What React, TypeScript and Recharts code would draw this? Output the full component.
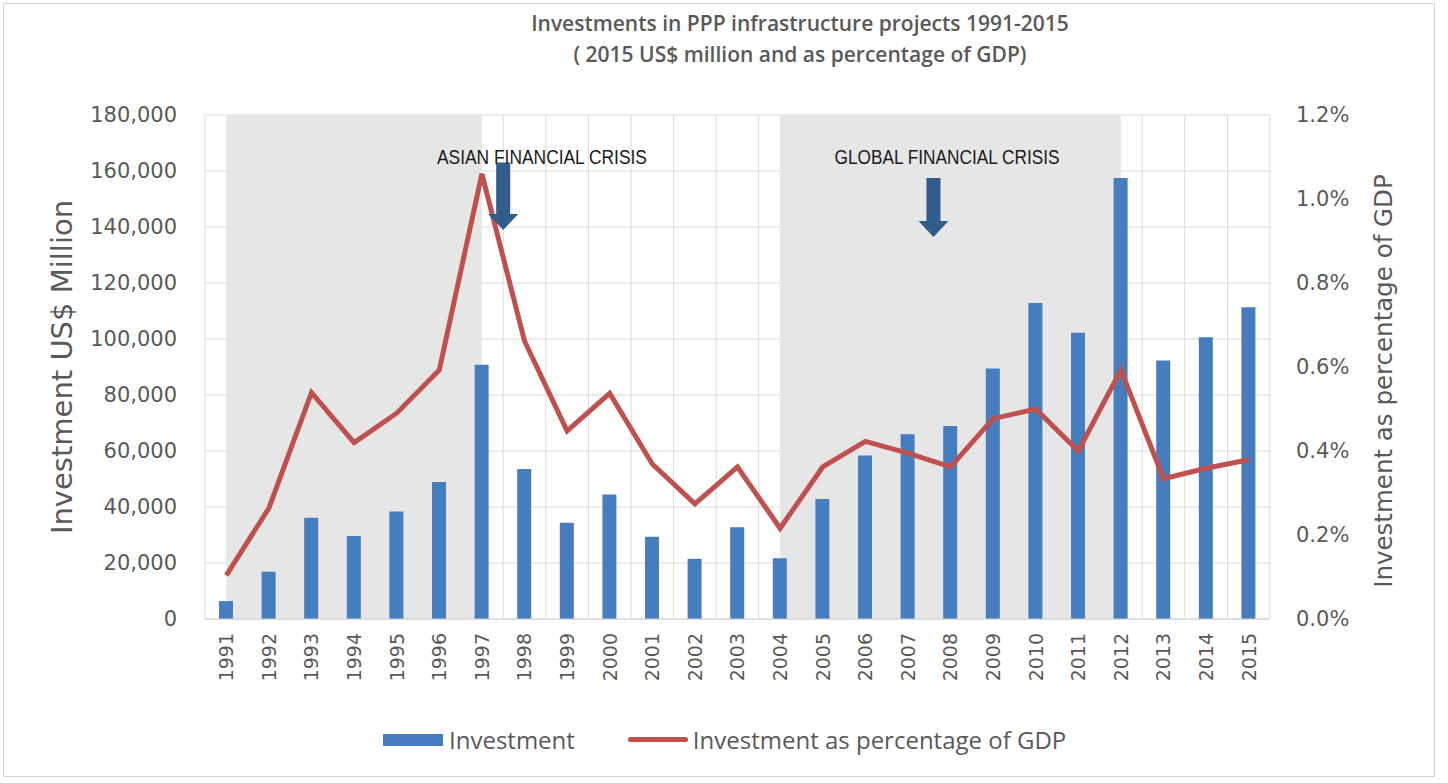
import React from 'react';
import {
  ComposedChart, Bar, Line, XAxis, YAxis, CartesianGrid, Legend,
  ReferenceArea, ReferenceLine, ReferenceDot,
} from 'recharts';

const years = [
  '1991', '1992', '1993', '1994', '1995', '1996', '1997', '1998', '1999', '2000',
  '2001', '2002', '2003', '2004', '2005', '2006', '2007', '2008', '2009', '2010',
  '2011', '2012', '2013', '2014', '2015',
];

// 2015 US$ million
const investment = [
  6400, 16900, 36200, 29600, 38400, 48900, 90800, 53600, 34400, 44500,
  29400, 21500, 32800, 21700, 42900, 58400, 66000, 68900, 89500, 112900,
  102200, 157500, 92300, 100600, 111300,
];

// percent of GDP
const pctGdp = [
  0.104, 0.264, 0.539, 0.42, 0.49, 0.593, 1.06, 0.662, 0.448, 0.537,
  0.369, 0.274, 0.362, 0.216, 0.362, 0.423, 0.395, 0.362, 0.477, 0.5,
  0.4, 0.593, 0.334, 0.359, 0.379,
];

const leftTicks = [0, 20000, 40000, 60000, 80000, 100000, 120000, 140000, 160000, 180000];
const rightTicks = [0, 0.2, 0.4, 0.6, 0.8, 1.0, 1.2];
const slotTicks = Array.from({ length: years.length + 1 }, (_, i) => i);

const data = years.map((year, i) => ({
  year,
  pos: i + 0.5,
  investment: investment[i],
  pct: pctGdp[i],
}));

const GREY = '#595959';
const BLUE = '#467dbf';
const RED = '#c0504d';
const ARROW = '#2f5d8c';

const YearTick = ({ x, y, payload }: any) => (
  <text
    x={x}
    y={y + 6}
    transform={`rotate(-90, ${x}, ${y + 6})`}
    textAnchor="end"
    dy="0.36em"
    fill={GREY}
    fontSize={19}
    fontFamily="DejaVu Sans"
  >
    {payload.value}
  </text>
);

const LeftTitle = ({ viewBox }: any) => {
  const x = viewBox.x + viewBox.width - 143;
  const y = viewBox.y + viewBox.height / 2;
  return (
    <text x={x} y={y} transform={`rotate(-90, ${x}, ${y})`} textAnchor="middle" dy="0.36em"
      fill={GREY} fontSize={29} fontFamily="DejaVu Sans">
      Investment US$ Million
    </text>
  );
};

const RightTitle = ({ viewBox }: any) => {
  const x = viewBox.x + 113;
  const y = viewBox.y + viewBox.height / 2 + 14;
  return (
    <text x={x} y={y} transform={`rotate(-90, ${x}, ${y})`} textAnchor="middle" dy="0.36em"
      fill={GREY} fontSize={24.5} fontFamily="DejaVu Sans">
      Investment as percentage of GDP
    </text>
  );
};

const DownArrow = ({ x1, y1, x2, y2 }: any) => {
  const shaft = 7;
  const head = 15;
  const headLen = 16;
  const pts = [
    [x1 - shaft, y1], [x1 + shaft, y1], [x1 + shaft, y2 - headLen], [x1 + head, y2 - headLen],
    [x2, y2], [x1 - head, y2 - headLen], [x1 - shaft, y2 - headLen],
  ].map((p) => p.join(',')).join(' ');
  return <polygon points={pts} fill={ARROW} />;
};

// narrow caps label, squeezed to the width it has in the original
const crisisLabel = (text: string, len: number) => ({ cx, cy }: any) => (
  <text x={cx} y={cy} textAnchor="middle" fill="#1a1a1a" fontSize={20}
    textLength={len} lengthAdjust="spacingAndGlyphs"
    fontFamily="'Liberation Sans Narrow', 'Liberation Sans', sans-serif">
    {text}
  </text>
);

const LegendContent = () => (
  <div style={{ display: 'flex', alignItems: 'center', fontFamily: 'Open Sans', fontSize: 24, color: GREY, marginTop: 4 }}>
    <span style={{ display: 'inline-block', width: 60, height: 12, background: BLUE, marginRight: 6 }} />
    <span style={{ marginRight: 53 }}>Investment</span>
    <span style={{ display: 'inline-block', width: 60, height: 5, background: RED, borderRadius: 3, marginRight: 5 }} />
    <span>Investment as percentage of GDP</span>
  </div>
);

export default function App() {
  return (
    <div style={{ position: 'absolute', left: 0, top: 0, width: 1448, height: 783, background: '#fff' }}>
      <div style={{ position: 'absolute', left: 3, top: 3, width: 1430, height: 772, border: '1px solid #d4d4d4' }} />
      <div style={{
        position: 'absolute', left: 400, top: 8, width: 800, textAlign: 'center',
        fontFamily: 'Open Sans', fontWeight: 600, fontSize: 21, lineHeight: '31px', color: GREY,
      }}>
        <div>Investments in PPP infrastructure projects 1991-2015</div>
        <div>( 2015 US$ million and as percentage of GDP)</div>
      </div>
      <div style={{ position: 'absolute', left: 0, top: 0 }}>
        <ComposedChart
          width={1448}
          height={783}
          data={data}
          margin={{ top: 115, right: 78, left: 105, bottom: 24 }}
        >
          <XAxis xAxisId="num" type="number" dataKey="pos" domain={[0, years.length]} ticks={slotTicks} hide />
          <XAxis
            xAxisId="cat"
            dataKey="year"
            interval={0}
            height={100}
            tick={<YearTick />}
            tickLine={false}
            axisLine={{ stroke: '#d0d0d0' }}
          />
          <YAxis
            yAxisId="left"
            domain={[0, 180000]}
            ticks={leftTicks}
            width={100}
            tickLine={false}
            axisLine={false}
            tickSize={26}
            tickFormatter={(v: number) => v.toLocaleString('en-US')}
            tick={{ fill: GREY, fontSize: 21, fontFamily: 'DejaVu Sans' }}
            label={<LeftTitle />}
          />
          <YAxis
            yAxisId="right"
            orientation="right"
            domain={[0, 1.2]}
            ticks={rightTicks}
            width={100}
            tickLine={false}
            axisLine={false}
            tickSize={24}
            tickFormatter={(v: number) => `${v.toFixed(1)}%`}
            tick={{ fill: GREY, fontSize: 21, fontFamily: 'DejaVu Sans' }}
            label={<RightTitle />}
          />
          <CartesianGrid xAxisId="num" yAxisId="left" stroke="#d9d9d9" />
          <ReferenceArea xAxisId="num" yAxisId="left" x1={0.5} x2={6.5} fill="#e6e6e6" fillOpacity={1} />
          <ReferenceArea xAxisId="num" yAxisId="left" x1={13.5} x2={21.5} fill="#e6e6e6" fillOpacity={1} />
          <Bar
            xAxisId="cat"
            yAxisId="left"
            dataKey="investment"
            name="Investment"
            fill={BLUE}
            barSize={14}
            isAnimationActive={false}
          />
          <Line
            xAxisId="cat"
            yAxisId="right"
            dataKey="pct"
            name="Investment as percentage of GDP"
            stroke={RED}
            strokeWidth={5}
            dot={false}
            activeDot={false}
            isAnimationActive={false}
          />
          <ReferenceLine xAxisId="num" yAxisId="left" segment={[{ x: 7, y: 163000 }, { x: 7, y: 138900 }]} shape={DownArrow} />
          <ReferenceLine xAxisId="num" yAxisId="left" segment={[{ x: 17.1, y: 157500 }, { x: 17.1, y: 136400 }]} shape={DownArrow} />
          <ReferenceDot xAxisId="num" yAxisId="left" x={7.91} y={162500} r={0} shape={crisisLabel('ASIAN FINANCIAL CRISIS', 210)} />
          <ReferenceDot xAxisId="num" yAxisId="left" x={17.42} y={162500} r={0} shape={crisisLabel('GLOBAL FINANCIAL CRISIS', 225)} />
          <Legend
            verticalAlign="bottom"
            height={40}
            content={<LegendContent />}
            wrapperStyle={{ left: 383, width: 760 }}
          />
        </ComposedChart>
      </div>
    </div>
  );
}
